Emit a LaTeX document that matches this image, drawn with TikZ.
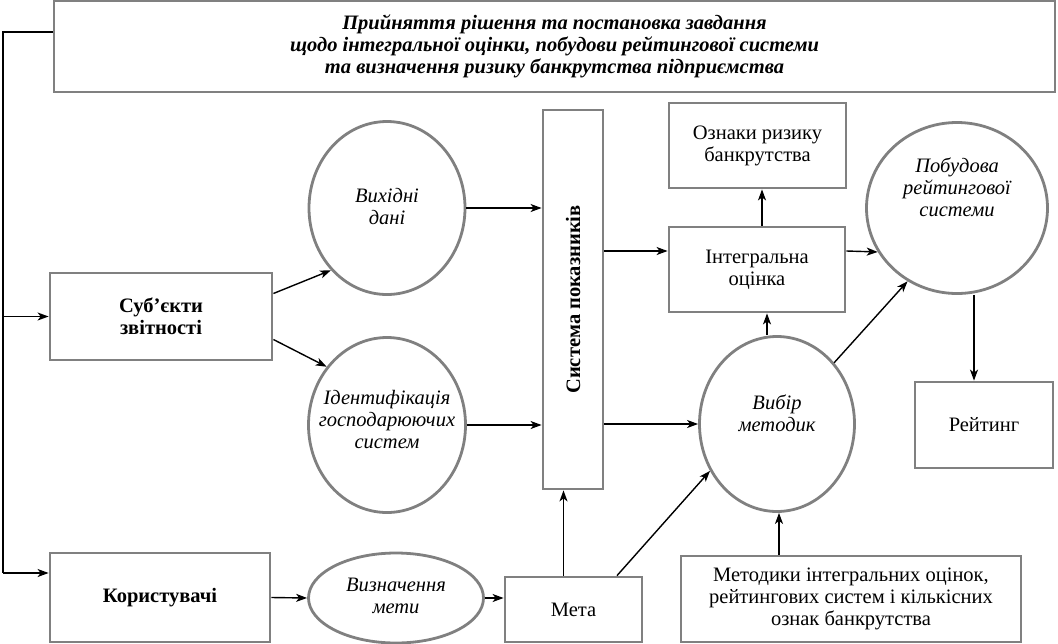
\documentclass[tikz,border=0pt]{standalone}
\usepackage{fontspec}
\setmainfont{Liberation Serif}
\usetikzlibrary{shapes.geometric,arrows.meta,calc}
\definecolor{boxgray}{RGB}{128,128,128}
\newcommand{\fs}{\fontsize{20.5}{22}\selectfont}
\begin{document}
\begin{tikzpicture}[x=1pt,y=-1pt,
  box/.style={draw=boxgray,line width=2.8pt,fill=white,inner sep=0pt,align=center,font=\fs},
  oval/.style={ellipse,draw=boxgray,line width=2.8pt,fill=white,inner sep=0pt,align=center,font=\fs\itshape},
  lbl/.style={inner sep=0pt,align=center,font=\fs\itshape},
  conn/.style={line width=1.4pt,black},
  arr/.style={conn,-{Stealth[length=11pt,width=8pt,inset=3pt]}}
]
\useasboundingbox (0,0) rectangle (1058,643);

% boxes
\node[box,minimum width=1001pt,minimum height=91pt,font=\fs\bfseries\itshape] (top) at (554.5,46.5)
  {Прийняття рішення та постановка завдання\\щодо інтегральної оцінки, побудови рейтингової системи\\та визначення ризику банкрутства підприємства};
\node[box,minimum width=222pt,minimum height=87pt,font=\fs\bfseries] (subj) at (161,316.5) {Суб’єкти\\звітності};
\node[box,minimum width=220pt,minimum height=89pt,font=\fs\bfseries] (kor) at (160,597.5) {Користувачі};
\node[box,minimum width=137pt,minimum height=65pt] (meta) at (573.5,609.5) {Мета};
\node[box,minimum width=340pt,minimum height=86pt] (metod) at (851,599) {Методики інтегральних оцінок,\\рейтингових систем і кількісних\\ознак банкрутства};
\node[box,minimum width=177pt,minimum height=85pt] (ozn) at (757.5,145.5) {Ознаки ризику\\банкрутства};
\node[box,minimum width=176pt,minimum height=85pt] (integ) at (757,269.5) {Інтегральна\\оцінка};
\node[box,minimum width=138pt,minimum height=86pt] (reit) at (984,425) {Рейтинг};
\node[box,minimum width=60pt,minimum height=379pt] (sys) at (573,299.5) {};
\node[rotate=90,inner sep=0pt,font=\fs\bfseries] (syst) at (sys.center) {Система показників};

% ovals
\node[oval,minimum width=156pt,minimum height=173pt] (vyh) at (387,208) {};
\node[lbl] (vyht) at (387,206) {Вихідні\\дані};
\node[oval,minimum width=157pt,minimum height=175pt] (ident) at (387,425) {};
\node[lbl] (identt) at (387,420) {Ідентифікація\\господарюючих\\систем};
\node[oval,minimum width=155pt,minimum height=175pt] (vyb) at (777,424) {};
\node[lbl] (vybt) at (777,413) {Вибір\\методик};
\node[oval,minimum width=181pt,minimum height=171pt] (pob) at (957,208) {};
\node[lbl] (pobt) at (957,187) {Побудова\\рейтингової\\системи};
\node[oval,minimum width=175pt,minimum height=90pt] (vyzn) at (396,598) {};
\node[lbl] (vyznt) at (396,596) {Визначення\\мети};

% left feed line
\coordinate (tl) at (3,32);
\coordinate (bl) at (3,573);
\draw[conn] (top.west |- tl) -- (tl) -- (bl);
\draw[arr] (tl |- subj.west) -- (subj.west);
\draw[arr] (bl) -- (kor.west |- bl);

% connectors
\draw[arr] ([yshift=23pt]subj.east) -- (vyh.228);
\draw[arr] ([yshift=-23pt]subj.east) -- (ident.136);
\draw[arr] (vyh.east) -- (vyh.east -| sys.west);
\draw[arr] (ident.east) -- (ident.east -| sys.west);
\coordinate (si) at ($(integ.west)+(0,-18.5)$);
\draw[arr] (si -| sys.east) -- (si);
\draw[arr] (vyb.west -| sys.east) -- (vyb.west);
\draw[arr] ([xshift=5pt]integ.north) -- ([xshift=5pt]integ.north |- ozn.south);
\draw[arr] ([xshift=10pt]integ.south |- vyb.north) -- ([xshift=10pt]integ.south);
\coordinate (ip) at ($(integ.east)+(0,-18.5)$);
\draw[arr] (ip) -- (pob.209);
\draw[arr] (vyb.47) -- (pob.236);
\draw[arr] ([xshift=-10pt]reit.north |- pob.south) -- ([xshift=-10pt]reit.north);
\draw[arr] (kor.east) -- (vyzn.west);
\draw[arr] (vyzn.east) -- (vyzn.east -| meta.west);
\draw[arr] ([xshift=-10pt]meta.north) -- ([xshift=-10pt]meta.north |- sys.south);
\draw[arr] ([xshift=43.5pt]meta.north) -- (vyb.215.6);
\draw[arr] ([xshift=-72pt]metod.north) -- ([xshift=-72pt]metod.north |- vyb.south);
\end{tikzpicture}
\end{document}
